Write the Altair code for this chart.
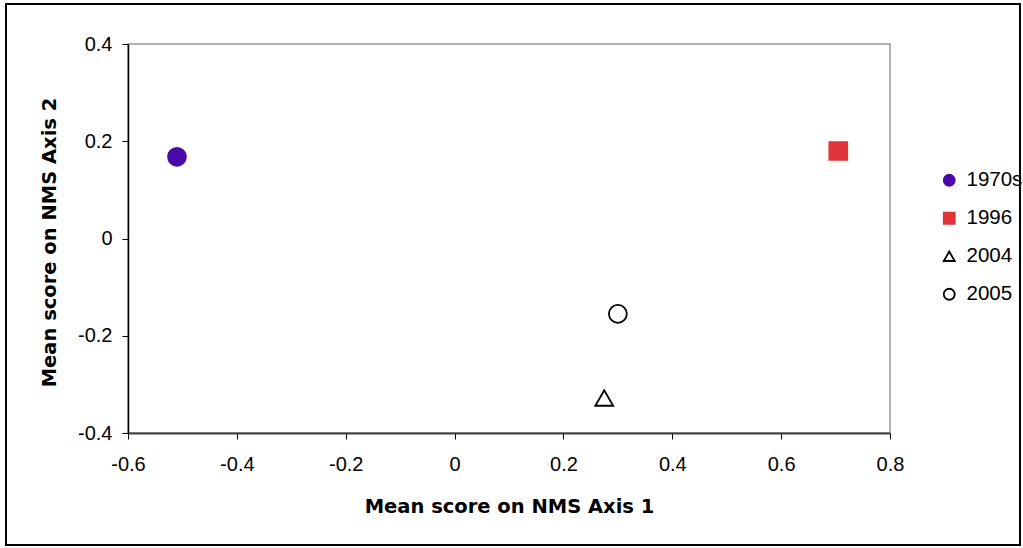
import altair as alt
import pandas as pd

periods = ["1970s", "1996", "2004", "2005"]
axis1 = [-0.51, 0.705, 0.275, 0.30]
axis2 = [0.168, 0.18, -0.328, -0.155]
shapes = ["circle", "square", "triangle-up", "circle"]
fills = ["#4B0AAA", "#E0333A", "white", "white"]
strokes = ["#4B0AAA", "#E0333A", "black", "black"]

df = pd.DataFrame({"period": periods, "x": axis1, "y": axis2})

FONT = "Liberation Sans"
TFONT = "DejaVu Sans"
W, H = 762, 389
PL, PT = 128, 44
LABEL_EXPR = "replace(format(datum.value, '~g'), '\u2212', '-')"

legend = alt.Legend(title=None, orient="none", legendX=811, legendY=126,
                    labelFontSize=20.5, labelFont=FONT, labelColor="black",
                    symbolSize=120, symbolStrokeWidth=1.8, rowPadding=17,
                    labelOffset=7)

points = alt.Chart(df).mark_point(size=320, strokeWidth=1.8, opacity=1, filled=False).encode(
    x=alt.X("x:Q", scale=alt.Scale(domain=[-0.6, 0.8], nice=False),
            axis=alt.Axis(title="Mean score on NMS Axis 1", values=[-0.6, -0.4, -0.2, 0, 0.2, 0.4, 0.6, 0.8],
                          labelExpr=LABEL_EXPR, labelFlush=False, grid=False,
                          domainColor="#404040", domainWidth=2,
                          tickColor="black", tickSize=6, labelPadding=15,
                          labelFontSize=20, labelFont=FONT, labelColor="black",
                          titleFontSize=19.5, titleFont=TFONT, titleFontWeight="bold",
                          titlePadding=23, titleColor="black")),
    y=alt.Y("y:Q", scale=alt.Scale(domain=[-0.4, 0.4], nice=False),
            axis=alt.Axis(title="Mean score on NMS Axis 2", values=[-0.4, -0.2, 0, 0.2, 0.4],
                          labelExpr=LABEL_EXPR, labelFlush=False, grid=False,
                          domainColor="black", domainWidth=1.5,
                          tickColor="black", tickSize=6, labelPadding=10,
                          labelFontSize=20, labelFont=FONT, labelColor="black",
                          titleFontSize=19.5, titleFont=TFONT, titleFontWeight="bold",
                          titlePadding=18, titleColor="black", titleY=198)),
    shape=alt.Shape("period:N", scale=alt.Scale(domain=periods, range=shapes), legend=legend),
    fill=alt.Fill("period:N", scale=alt.Scale(domain=periods, range=fills), legend=legend),
    stroke=alt.Stroke("period:N", scale=alt.Scale(domain=periods, range=strokes), legend=legend),
)

frame = alt.Chart(df).mark_rect(fill=None, stroke="black", strokeWidth=1.5, clip=False).encode(
    x=alt.value(6 - PL), x2=alt.value(1020 - PL), y=alt.value(4 - PT), y2=alt.value(545 - PT)
)

chart = alt.layer(frame, points).properties(
    width=W, height=H,
    autosize=alt.AutoSizeParams(type="none"),
    padding={"left": PL, "top": PT, "right": 1023 - PL - W, "bottom": 548 - PT - H},
    background="white",
).configure_view(stroke="#999999", strokeWidth=1.5)

chart.save("out.html", embed_options={"renderer": "svg", "actions": False})
